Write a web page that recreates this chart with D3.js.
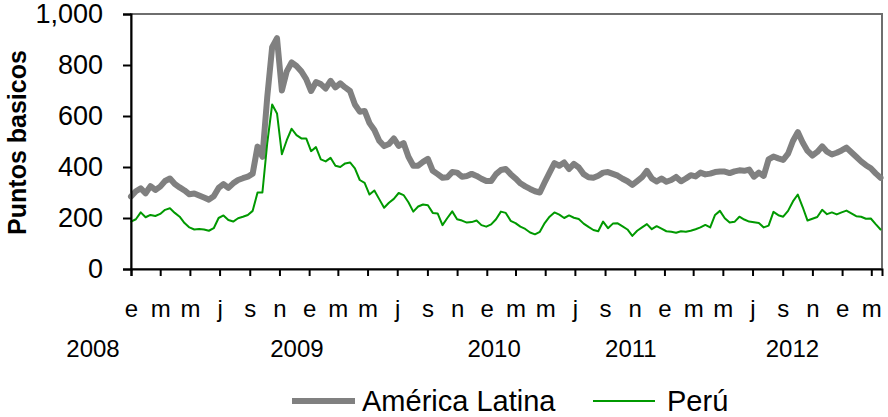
<!DOCTYPE html>
<html>
<head>
<meta charset="utf-8">
<script src="https://cdn.jsdelivr.net/npm/d3@7"></script>
<style>
  html, body { margin: 0; padding: 0; background: #ffffff; }
  svg { display: block; font-family: "Liberation Sans", Arial, sans-serif; }
</style>
</head>
<body>
<svg id="chart" width="888" height="417"></svg>
<script>
// ---------------- DATA ----------------
const seriesNames = ["América Latina", "Perú"];
const startDate = new Date(2008, 0, 1);
const stepDays = 10;
const latamValues = [
  284, 305, 316, 297, 325, 310, 323, 345, 355, 333,
  320, 308, 293, 296, 288, 280, 272, 285, 318, 333,
  318, 336, 349, 356, 362, 374, 480, 440, 676, 870,
  905, 700, 775, 810, 796, 775, 745, 698, 733, 725,
  708, 738, 712, 728, 712, 698, 645, 617, 620, 572,
  545, 503, 482, 490, 512, 483, 494, 440, 405, 405,
  420, 432, 385, 372, 358, 360, 380, 378, 362, 365,
  373, 365, 354, 345, 345, 372, 388, 392, 372, 355,
  336, 324, 314, 305, 300, 340, 378, 415, 405, 418,
  392, 412, 398, 372, 360, 358, 366, 378, 380, 373,
  366, 354, 344, 330, 345, 360, 385, 355, 343, 355,
  342, 349, 361, 344, 355, 368, 363, 378, 371, 374,
  380, 382, 382, 376, 383, 387, 385, 390, 362, 378,
  365, 430, 441, 434, 428, 452, 502, 537, 496, 463,
  445, 459, 481, 460, 449, 456, 465, 476, 458, 440,
  422, 407, 395, 375, 358
];
const peruValues = [
  186, 195, 222, 203, 212, 208, 216, 232, 238, 220,
  205, 180, 163, 155, 157, 155, 150, 160, 200, 210,
  192, 186, 199, 205, 212, 228, 300, 300, 495, 645,
  610, 450, 505, 550, 525, 512, 512, 462, 478, 430,
  422, 436, 405, 400, 414, 418, 395, 349, 338, 292,
  308, 274, 240, 260, 275, 298, 290, 262, 225, 245,
  253, 250, 220, 218, 172, 200, 226, 195, 190, 182,
  184, 190, 172, 166, 175, 195, 225, 220, 189, 180,
  166, 157, 143, 136, 146, 180, 205, 222, 213, 200,
  210, 201, 196, 178, 165, 153, 148, 186, 160, 178,
  179, 167, 155, 130, 150, 163, 176, 156, 168, 158,
  148, 146, 142, 148, 146, 150, 156, 163, 173, 163,
  212, 228, 199, 182, 185, 205, 194, 186, 183, 180,
  163, 170, 224, 211, 205, 228, 265, 292, 243, 190,
  197, 204, 232, 215, 222, 214, 222, 229, 218, 207,
  205, 197, 198, 176, 155
];
const monthLetters = ["e", "m", "m", "j", "s", "n"];
const yearLabels = ["2008", "2009", "2010", "2011", "2012"];
const yTicks = [0, 200, 400, 600, 800, 1000];
const yTitle = "Puntos basicos";

// ---------------- LAYOUT ----------------
const svg = d3.select("#chart");
const L = 131, R = 882, T = 14, B = 269;
const colors = ["#808080", "#009900"];
const widths = [6, 2];

const dates = latamValues.map((_, i) => d3.timeDay.offset(startDate, i * stepDays));
const x = d3.scaleTime()
  .domain([new Date(2008, 0, 1), new Date(2012, 2, 23)])
  .range([L, R]);
const y = d3.scaleLinear().domain([0, 1000]).range([B, T]);

// plot area border
svg.append("rect")
  .attr("x", L).attr("y", T).attr("width", R - L).attr("height", B - T)
  .attr("fill", "none").attr("stroke", "#6e6e6e").attr("stroke-width", 2);

// lines
const lineGen = vals => d3.line()
  .x((d, i) => x(dates[i]))
  .y(d => y(d))
  .curve(d3.curveLinear)(vals);
[latamValues, peruValues].forEach((vals, k) => {
  svg.append("path")
    .attr("d", lineGen(vals))
    .attr("fill", "none")
    .attr("stroke", colors[k])
    .attr("stroke-width", widths[k])
    .attr("stroke-linejoin", "round")
    .attr("stroke-linecap", "round");
});

// y axis
const yAxis = svg.append("g")
  .attr("transform", `translate(${L},0)`)
  .call(d3.axisLeft(y).tickValues(yTicks).tickSize(8).tickPadding(20)
    .tickFormat(d3.format(",")));
yAxis.select(".domain").attr("stroke", "#000").attr("stroke-width", 2);
yAxis.selectAll(".tick line").attr("stroke", "#000").attr("stroke-width", 2);
yAxis.selectAll("text").attr("font-size", 27).attr("fill", "#000")
  .attr("font-family", "Liberation Sans, Arial, sans-serif");

// x axis
const tickDates = d3.timeMonth.every(2).range(new Date(2008, 0, 1), new Date(2012, 2, 2));
const xAxis = svg.append("g")
  .attr("transform", `translate(0,${B})`)
  .call(d3.axisBottom(x).tickValues(tickDates).tickSize(7).tickPadding(24)
    .tickFormat(d => monthLetters[Math.floor(d.getMonth() / 2)]));
xAxis.select(".domain").attr("stroke", "#000").attr("stroke-width", 2);
xAxis.selectAll(".tick line").attr("stroke", "#000").attr("stroke-width", 2);
xAxis.selectAll("text").attr("font-size", 24).attr("fill", "#000")
  .attr("font-family", "Liberation Sans, Arial, sans-serif");

// year labels (anchored under the category axis as in the original)
const yearAnchors = [new Date(2007, 9, 15), new Date(2008, 11, 7), new Date(2010, 0, 16),
                     new Date(2010, 9, 24), new Date(2011, 8, 21)];
svg.append("g").selectAll("text").data(yearLabels).join("text")
  .attr("x", (d, i) => x(yearAnchors[i]))
  .attr("y", 357)
  .attr("text-anchor", "middle")
  .attr("font-size", 24)
  .attr("fill", "#000")
  .text(d => d);

// y title
svg.append("text")
  .attr("transform", `translate(26,${(T + B) / 2 + 1}) rotate(-90)`)
  .attr("text-anchor", "middle")
  .attr("font-size", 25)
  .attr("font-weight", "bold")
  .attr("fill", "#000")
  .text(yTitle);

// legend
const legendItems = [
  { name: seriesNames[0], x1: 292, x2: 355, tx: 362 },
  { name: seriesNames[1], x1: 593, x2: 655, tx: 667 }
];
const lg = svg.append("g");
legendItems.forEach((it, k) => {
  lg.append("line").attr("x1", it.x1).attr("x2", it.x2).attr("y1", 401).attr("y2", 401)
    .attr("stroke", colors[k]).attr("stroke-width", widths[k]);
  lg.append("text").attr("x", it.tx).attr("y", 401).attr("dy", "0.35em")
    .attr("font-size", 29).attr("fill", "#000").text(it.name);
});
</script>
</body>
</html>
